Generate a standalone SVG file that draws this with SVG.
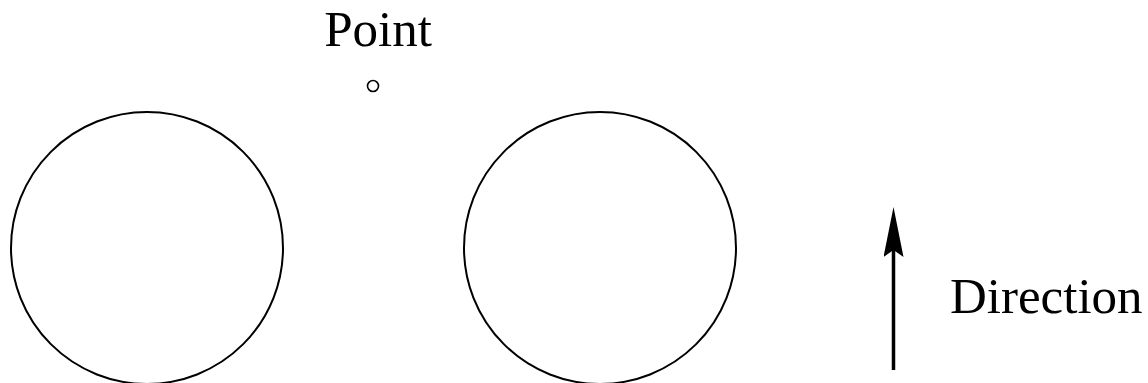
<svg xmlns="http://www.w3.org/2000/svg" width="1148" height="383" viewBox="0 0 1148 383">
<style>
.shape{fill:none;stroke:#000;stroke-width:2}
.lbl{font-family:"Liberation Serif","Times New Roman",serif;font-size:51px;fill:#000}
</style>
<defs>
<marker id="ah" markerUnits="userSpaceOnUse" markerWidth="50" markerHeight="20" viewBox="0 0 50 20" refX="7" refY="10" orient="auto">
<path d="M0 0 L50 10 L0 20 L7 10 Z" fill="#000"/>
</marker>
</defs>
<rect width="1148" height="383" fill="#fff"/>
<g id="circle-left"><circle class="shape" cx="147" cy="248" r="136"/></g>
<g id="circle-right"><circle class="shape" cx="600" cy="248" r="136"/></g>
<g id="point"><text class="lbl" x="378" y="46" text-anchor="middle">Point</text><circle cx="373" cy="86" r="5.5" fill="none" stroke="#000" stroke-width="1.6"/></g>
<g id="direction-label"><text class="lbl" x="950" y="313">Direction</text></g>
<g id="connectors">
<line x1="893.5" y1="370" x2="893.5" y2="250" stroke="#000" stroke-width="3.5" marker-end="url(#ah)"/>
</g>
</svg>
